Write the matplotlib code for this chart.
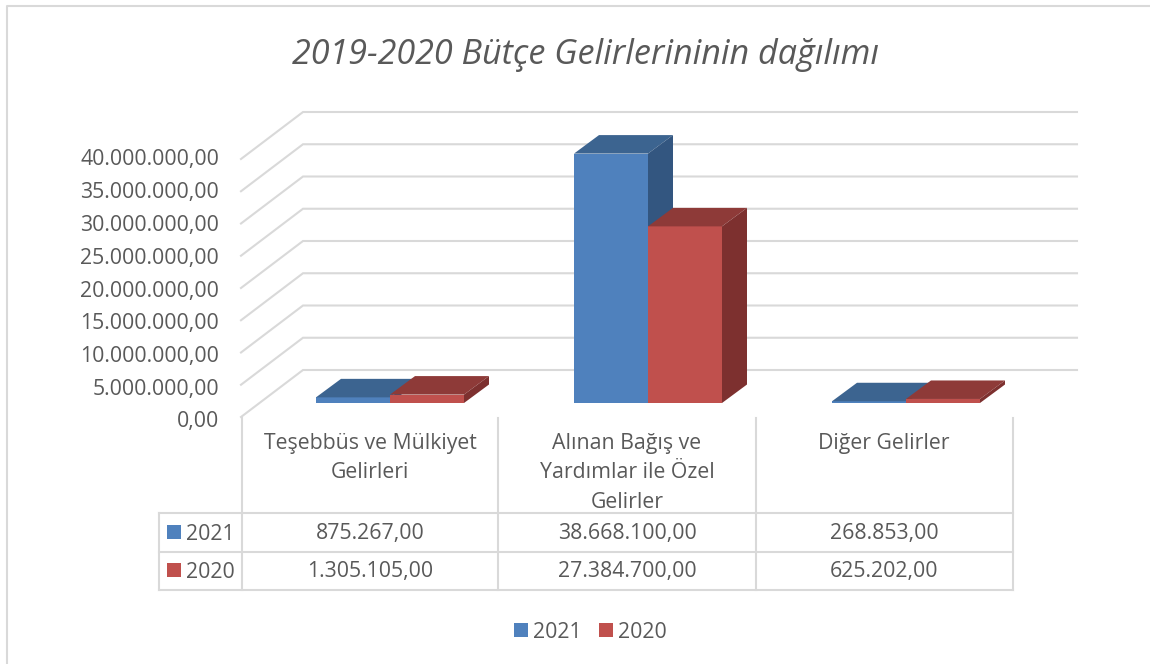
import matplotlib
matplotlib.use("Agg")
import matplotlib.pyplot as plt
from matplotlib.patches import Rectangle

plt.rcParams['font.family'] = ['Open Sans', 'DejaVu Sans']

categories = ["Teşebbüs ve Mülkiyet\nGelirleri",
              "Alınan Bağış ve\nYardımlar ile Özel\nGelirler",
              "Diğer Gelirler"]
series_names = ["2021", "2020"]
values_2021 = [875267, 38668100, 268853]
values_2020 = [1305105, 27384700, 625202]
labels_2021 = ["875.267,00", "38.668.100,00", "268.853,00"]
labels_2020 = ["1.305.105,00", "27.384.700,00", "625.202,00"]
y_ticks = [0, 5000000, 10000000, 15000000, 20000000, 25000000, 30000000, 35000000, 40000000]
y_labels = ["0,00", "5.000.000,00", "10.000.000,00", "15.000.000,00", "20.000.000,00",
            "25.000.000,00", "30.000.000,00", "35.000.000,00", "40.000.000,00"]

TEXT = "#595959"
GRID = "#d9d9d9"
BLUE = ("#4f81bd", "#3c6490", "#335680")
RED = ("#c0504d", "#8e3a38", "#7d302f")
FS = 15.3
LW = 1.5

fig = plt.figure(figsize=(11.5, 6.64), dpi=100)

# pixel layer for frame, table and text
px = fig.add_axes([0, 0, 1, 1])
px.set_xlim(0, 1150)
px.set_ylim(664, 0)
px.axis("off")

# value layer: x in categories, y in money
cat_step = 258.0
val_per_px = 5000000 / 32.25
ax = fig.add_axes([0, 0, 1, 1])
ax.set_xlim(-390 / cat_step, (1150 - 390) / cat_step)
ax.set_ylim((403 - 664) * val_per_px, 403 * val_per_px)
ax.axis("off")
ax.patch.set_alpha(0)

depth_x = 25 / cat_step
depth_y = 18.5 * val_per_px
bar_w = 74 / cat_step

# walls: back line plus the diagonal to the front
wall_left = (303 - 390) / cat_step
wall_right = (1077 - 390) / cat_step
wall_base = (403 - 370) * val_per_px
front_left = (241 - 390) / cat_step
front_drop = (417 - 370) * val_per_px
for v in y_ticks:
    ax.plot([front_left, wall_left, wall_right],
            [v + wall_base - front_drop, v + wall_base, v + wall_base],
            color=GRID, lw=LW, solid_joinstyle="miter")


def bar3d(x0, height, colors, zorder):
    x1 = x0 + bar_w
    ax.bar(x0, height, bar_w, align="edge", color=colors[0], zorder=zorder)
    ax.fill([x0, x1, x1 + depth_x, x0 + depth_x],
            [height, height, height + depth_y, height + depth_y],
            color=colors[1], lw=0, zorder=zorder)
    ax.fill([x1, x1 + depth_x, x1 + depth_x, x1],
            [0, depth_y, height + depth_y, height],
            color=colors[2], lw=0, zorder=zorder)


for i in range(len(categories)):
    bar3d(i - bar_w, values_2021[i], BLUE, 3)
    bar3d(i, values_2020[i], RED, 4)

# chart frame, only left and top show
px.plot([7, 7, 1150], [664, 6, 6], color=GRID, lw=LW)

px.text(585, 55, "2019-2020 Bütçe Gelirlerininin dağılımı", fontsize=24.6, style="italic",
        color=TEXT, ha="center", va="center")

for i, lab in enumerate(y_labels):
    px.text(219, 422 - i * 32.75, lab, fontsize=FS, color=TEXT, ha="right", va="center")

# data table
for x in [242, 498, 756, 1013]:
    px.plot([x, x], [418, 590], color=GRID, lw=LW)
for y in [513, 552, 590]:
    px.plot([159, 1013], [y, y], color=GRID, lw=LW)
px.plot([159, 159], [513, 590], color=GRID, lw=LW)

col_centers = [370, 627, 884]
for cx, name in zip(col_centers, categories):
    for j, line in enumerate(name.split("\n")):
        px.text(cx, 444 + j * 29, line, fontsize=FS, color=TEXT, ha="center", va="center")

for row, (name, labels, colors, y) in enumerate(zip(series_names, [labels_2021, labels_2020],
                                                    [BLUE, RED], [534, 572])):
    px.add_patch(Rectangle((167, y - 9), 14, 14, color=colors[0], lw=0))
    px.text(186, y, name, fontsize=FS, color=TEXT, ha="left", va="center")
    for cx, lab in zip(col_centers, labels):
        px.text(cx, y, lab, fontsize=FS, color=TEXT, ha="center", va="center")

# legend
for x, name, colors in zip([514, 599], series_names, [BLUE, RED]):
    px.add_patch(Rectangle((x, 623), 14, 14, color=colors[0], lw=0))
    px.text(x + 19, 632, name, fontsize=FS, color=TEXT, ha="left", va="center")

fig.savefig("out.png", dpi=100, facecolor="white")
